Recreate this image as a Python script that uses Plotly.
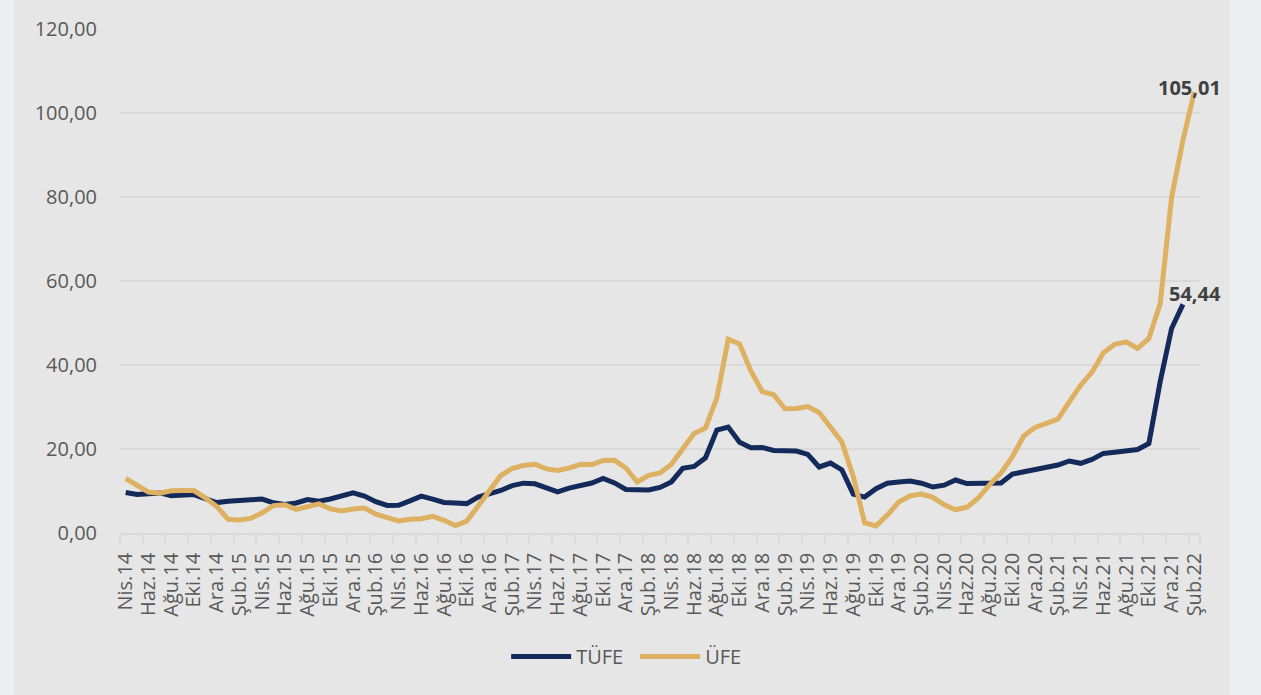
import plotly.graph_objects as go

# Category labels (monthly, Nis.14 .. Şub.22)
month_abbr = ["Oca", "Şub", "Mar", "Nis", "May", "Haz", "Tem", "Ağu", "Eyl", "Eki", "Kas", "Ara"]
start_year, start_month = 2014, 4   # April 2014
n_months = 95
categories = []
for k in range(n_months):
    m = (start_month - 1 + k) % 12
    y = start_year + (start_month - 1 + k) // 12
    categories.append(f"{month_abbr[m]}.{str(y)[2:]}")

# ÜFE values as drawn (one per category)
ufe = [12.98, 11.28, 9.75, 9.46, 10.05, 10.11, 10.10, 8.36, 6.36,
       3.28, 3.10, 3.48, 4.80, 6.52, 6.73, 5.62, 6.21, 6.92, 5.74, 5.25, 5.71,
       5.94, 4.47, 3.80, 2.87, 3.25, 3.41, 3.96, 3.03, 1.78, 2.84, 6.41, 9.94,
       13.69, 15.36, 16.09, 16.37, 15.26, 14.87, 15.45, 16.34, 16.28, 17.28, 17.30, 15.47,
       12.14, 13.71, 14.28, 16.37, 20.16, 23.71, 25.00, 32.13, 46.15, 45.01, 38.54, 33.64,
       32.93, 29.59, 29.64, 30.12, 28.71, 25.04, 21.66, 13.45, 2.45, 1.70, 4.26, 7.36,
       8.84, 9.26, 8.50, 6.71, 5.53, 6.17, 8.33, 11.53, 14.33, 18.20, 23.11, 25.15,
       26.16, 27.09, 31.20, 35.17, 38.33, 42.89, 44.92, 45.52, 43.96, 46.31, 54.62, 79.89,
       93.53, 105.01]

# TÜFE values as drawn (line ends one category before ÜFE)
tufe = [9.66, 9.16, 9.32, 9.54, 8.86, 8.96, 9.15, 8.17,
        7.24, 7.55, 7.61, 7.91, 8.09, 7.20, 6.81, 7.14, 7.95, 7.58, 8.10, 8.81,
        9.58, 8.78, 7.46, 6.57, 6.58, 7.64, 8.79, 8.05, 7.28, 7.16, 7.00, 8.53,
        9.22, 10.13, 11.29, 11.87, 11.72, 10.90, 9.79, 10.68, 11.20, 11.90, 12.98, 11.92,
        10.35, 10.26, 10.23, 10.85, 12.15, 15.39, 15.85, 17.90, 24.52, 25.24, 21.62, 20.30,
        20.35, 19.67, 19.71, 19.50, 18.71, 15.72, 16.65, 15.01, 9.26, 8.55, 10.56, 11.84,
        12.15, 12.37, 11.86, 10.94, 11.39, 12.62, 11.76, 11.77, 11.75, 11.89, 14.03, 14.60,
        14.97, 15.61, 16.19, 17.14, 16.59, 17.53, 18.95, 19.25, 19.58, 19.89, 21.31, 36.08,
        48.69, 54.44]

tick_labels = categories[::2]
y_ticks = [0, 20, 40, 60, 80, 100, 120]

NAVY = "#142a5a"
GOLD = "#ddb062"
FONT = "Open Sans"

fig = go.Figure()
fig.add_trace(go.Scatter(x=categories[:len(tufe)], y=tufe, mode="lines", name="TÜFE",
                         line=dict(color=NAVY, width=5)))
fig.add_trace(go.Scatter(x=categories, y=ufe, mode="lines", name="ÜFE",
                         line=dict(color=GOLD, width=5)))

fig.add_annotation(x=categories[len(ufe) - 1], y=ufe[-1], text="<b>105,01</b>",
                   showarrow=False, xshift=-5, yshift=4,
                   font=dict(family=FONT, size=20, color="#404040"))
fig.add_annotation(x=categories[len(tufe) - 1], y=tufe[-1], text="<b>54,44</b>",
                   showarrow=False, xshift=12, yshift=11,
                   font=dict(family=FONT, size=20, color="#404040"))

# grey chart area behind the plot
fig.add_shape(type="rect", xref="paper", yref="paper",
              x0=-0.0981, x1=1.0278, y0=-0.33, y1=1.07,
              fillcolor="#e6e6e6", line=dict(width=0), layer="below")

fig.update_layout(
    width=1261, height=695,
    margin=dict(l=120, r=61, t=29, b=162),
    paper_bgcolor="#eceef0",
    plot_bgcolor="rgba(0,0,0,0)",
    separators=",.",
    font=dict(family=FONT, size=20, color="#595959"),
    showlegend=True,
    legend=dict(orientation="h", x=0.477, xanchor="center", y=-0.245, yanchor="middle",
                font=dict(family=FONT, size=20, color="#595959"),
                bgcolor="rgba(0,0,0,0)", itemwidth=60, entrywidth=54),
    xaxis=dict(type="category", tickmode="array", tickvals=tick_labels, ticktext=tick_labels,
               tickangle=-90, tickson="boundaries", ticks="outside", ticklen=8,
               tickcolor="#d9d9d9", tickwidth=1.5, showgrid=False,
               showline=True, linecolor="#d9d9d9", linewidth=1.5,
               ticklabelstandoff=10,
               tickfont=dict(family=FONT, size=20, color="#595959"),
               range=[-0.5, len(categories) - 0.5]),
    yaxis=dict(range=[0, 120], tickmode="array", tickvals=y_ticks, tickformat=".2f",
               showgrid=True, gridcolor="#d9d9d9", gridwidth=1.5, zeroline=False,
               showline=False, ticks="", ticklabelstandoff=22,
               tickfont=dict(family=FONT, size=20, color="#595959")),
)

fig.write_html("out.html", config={"displayModeBar": False},
               post_script="document.body.style.margin='0';document.body.style.background='#eceef0';")
